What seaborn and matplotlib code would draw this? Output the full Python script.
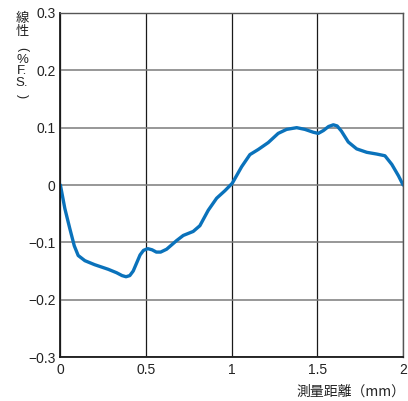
import matplotlib
matplotlib.use("Agg")
import matplotlib.pyplot as plt
import seaborn as sns
import pandas as pd

# Linearity error vs. measuring distance
distance_mm = [0.0, 0.026, 0.055, 0.081, 0.104, 0.143, 0.20, 0.279, 0.328, 0.36, 0.383,
               0.405, 0.425, 0.445, 0.465, 0.485, 0.51, 0.535, 0.56, 0.585, 0.62,
               0.678, 0.717, 0.775, 0.814, 0.863, 0.912, 0.96, 1.003, 1.058, 1.106,
               1.155, 1.213, 1.271, 1.32, 1.379, 1.427, 1.476, 1.505, 1.535, 1.565,
               1.593, 1.615, 1.64, 1.68, 1.729, 1.788, 1.846, 1.894, 1.934, 1.973, 2.0]
linearity_pct = [0.0, -0.041, -0.076, -0.106, -0.123, -0.132, -0.139, -0.147, -0.153, -0.158, -0.160,
                 -0.158, -0.150, -0.136, -0.122, -0.114, -0.111, -0.113, -0.117, -0.117, -0.112,
                 -0.097, -0.088, -0.081, -0.071, -0.044, -0.023, -0.010, 0.003, 0.032, 0.053,
                 0.062, 0.074, 0.090, 0.097, 0.100, 0.097, 0.092, 0.090, 0.095, 0.102,
                 0.105, 0.103, 0.094, 0.075, 0.063, 0.057, 0.054, 0.051, 0.036, 0.016, 0.0]

x_ticks = [0, 0.5, 1, 1.5, 2]
x_tick_labels = ["0", "0.5", "1", "1.5", "2"]
y_ticks = [-0.3, -0.2, -0.1, 0, 0.1, 0.2, 0.3]
y_tick_labels = ["\u22120.3", "\u22120.2", "\u22120.1", "0", "0.1", "0.2", "0.3"]
y_label_words = ["線", "性"]
y_label_unit = ["%", "F.", "S."]
x_label = "測量距離（mm）"

sns.set_theme(style="white")
plt.rcParams["font.family"] = ["Liberation Sans", "Noto Sans CJK JP", "DejaVu Sans"]

df = pd.DataFrame({"distance": distance_mm, "linearity": linearity_pct})

fig = plt.figure(figsize=(4.08, 4.01), dpi=100)
ax = fig.add_axes([0.148, 0.1097, 0.840, 0.8579])

sns.lineplot(data=df, x="distance", y="linearity", ax=ax, color="#0a72bb",
             linewidth=2.4, solid_capstyle="round", solid_joinstyle="round")

ax.set_xlim(0, 2)
ax.set_ylim(-0.3, 0.3)
ax.set_xticks(x_ticks)
ax.set_xticklabels(x_tick_labels)
ax.set_yticks(y_ticks)
ax.set_yticklabels(y_tick_labels)
ax.tick_params(axis="both", length=0, labelsize=10, colors="#222222")
ax.tick_params(axis="y", pad=3.5)
ax.tick_params(axis="x", pad=4)
ax.set_xlabel("")
ax.set_ylabel("")

ax.xaxis.grid(True, color="#1a1a1a", linewidth=0.9)
ax.yaxis.grid(True, color="#7a7a7a", linewidth=1.1)
ax.set_axisbelow(True)
for side in ["left", "bottom"]:
    ax.spines[side].set_color("#1a1a1a")
    ax.spines[side].set_linewidth(1.3)
for side in ["top", "right"]:
    ax.spines[side].set_color("#555555")
    ax.spines[side].set_linewidth(1.0)

# stacked (vertical-writing) y-axis label
lab_x = 22 / 408
txt_kw = dict(ha="center", color="#222222")
fig.text(lab_x, 1 - 12 / 401, "\n".join(y_label_words), va="top", fontsize=9.5,
         linespacing=1.0, family=["Noto Sans CJK JP", "DejaVu Sans"], **txt_kw)
fig.text(lab_x, 1 - 49.5 / 401, "(", va="center", fontsize=9, rotation=-90, **txt_kw)
fig.text(lab_x, 1 - 54 / 401, "\n".join(y_label_unit), va="top", fontsize=9.5,
         linespacing=0.93, **txt_kw)
fig.text(lab_x, 1 - 96 / 401, ")", va="center", fontsize=9, rotation=-90, **txt_kw)

fig.text(0.994, 1 - 392 / 401, x_label, ha="right", va="center", fontsize=10,
         color="#222222", family=["Noto Sans CJK JP", "DejaVu Sans"])

fig.savefig("out.png", dpi=100)
